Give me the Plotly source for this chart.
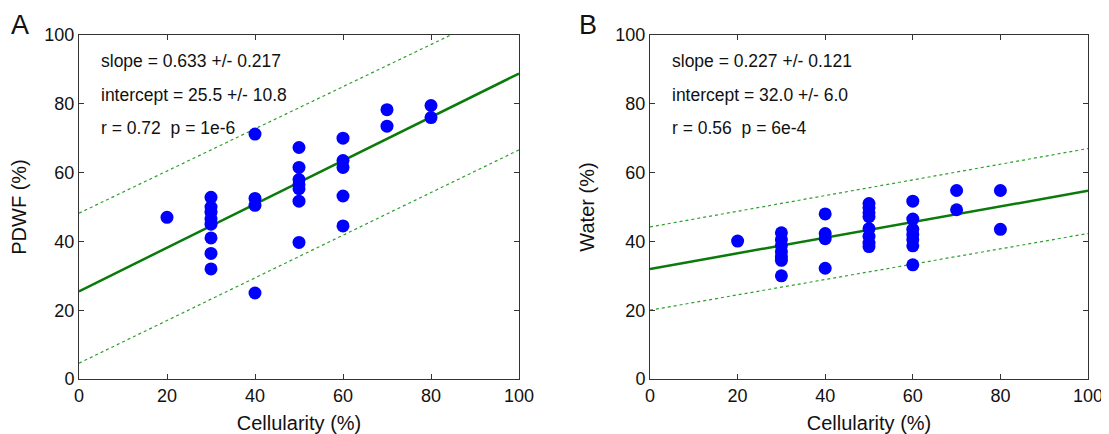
import plotly.graph_objects as go

# ---------------- data ----------------
# Panel A: PDWF vs cellularity
a_cell = [20,
          30, 30, 30, 30, 30, 30, 30, 30,
          40, 40, 40, 40,
          50, 50, 50, 50, 50, 50, 50,
          60, 60, 60, 60, 60,
          70, 70,
          80, 80]
a_pdwf = [47,
          52.8, 50, 48.5, 46.5, 45, 41, 36.5, 32,
          71.2, 52.5, 50.5, 25,
          67.3, 61.5, 58, 56.5, 55.3, 51.7, 39.7,
          70, 63.5, 61.5, 53.2, 44.5,
          78.3, 73.5,
          79.5, 76]
a_slope, a_intercept = 0.633, 25.5
a_band_x = [0, 100]
a_upper = [48.2, 109.5]
a_lower = [4.6, 66.6]
a_text = ["slope = 0.633 +/- 0.217", "intercept = 25.5 +/- 10.8", "r = 0.72  p = 1e-6"]

# Panel B: Water vs cellularity
b_cell = [20,
          30, 30, 30, 30, 30, 30, 30,
          40, 40, 40, 40,
          50, 50, 50, 50, 50, 50, 50, 50,
          60, 60, 60, 60, 60, 60, 60,
          70, 70,
          80, 80]
b_water = [40.1,
           42.5, 40.5, 38.8, 37, 35.5, 34.5, 30,
           48, 42.3, 40.8, 32.2,
           51, 49.8, 48.3, 47.2, 43.7, 41.5, 39.5, 38.5,
           51.7, 46.5, 43.5, 42, 40.5, 38.7, 33.2,
           54.8, 49.2,
           54.8, 43.5]
b_slope, b_intercept = 0.227, 32.0
b_band_x = [0, 100]
b_upper = [44.2, 67]
b_lower = [20, 42.3]
b_text = ["slope = 0.227 +/- 0.121", "intercept = 32.0 +/- 6.0", "r = 0.56  p = 6e-4"]

fit_x = [0, 100]
ticks = [0, 20, 40, 60, 80, 100]

# ---------------- figure ----------------
FONT = "Liberation Sans, Arial, Helvetica, sans-serif"
OFF = 8                      # default page margin of the html body
W, H = 1109 - OFF, 434 - OFF


def fx(px):
    return (px - OFF) / W


def fy(py):
    return (H - (py - OFF)) / H


fig = go.Figure()

panels = [
    ("x", "y", a_cell, a_pdwf, a_slope, a_intercept, a_band_x, a_upper, a_lower),
    ("x2", "y2", b_cell, b_water, b_slope, b_intercept, b_band_x, b_upper, b_lower),
]
for xa, ya, cx, cy, s, b, bx, up, lo in panels:
    fig.add_trace(go.Scatter(x=bx, y=up, xaxis=xa, yaxis=ya, mode="lines",
                             line=dict(color="#2ca02c", width=1.2, dash="dot"),
                             showlegend=False, hoverinfo="skip"))
    fig.add_trace(go.Scatter(x=bx, y=lo, xaxis=xa, yaxis=ya, mode="lines",
                             line=dict(color="#2ca02c", width=1.2, dash="dot"),
                             showlegend=False, hoverinfo="skip"))
    fig.add_trace(go.Scatter(x=fit_x, y=[b + s * v for v in fit_x], xaxis=xa, yaxis=ya,
                             mode="lines", line=dict(color="#0a7a0a", width=2.5),
                             showlegend=False))
    fig.add_trace(go.Scatter(x=cx, y=cy, xaxis=xa, yaxis=ya, mode="markers",
                             marker=dict(color="#0000ff", size=13),
                             cliponaxis=False, showlegend=False))

ydom = [fy(379), fy(35)]
axis_common = dict(range=[0, 100], tickvals=ticks, ticks="inside", ticklen=5,
                   tickcolor="#333", showline=True, linecolor="#333", linewidth=1,
                   mirror="ticks", showgrid=False, zeroline=False, automargin=False,
                   tickfont=dict(family=FONT, size=18, color="#111"))
tfont = dict(family=FONT, size=20, color="#111")

fig.update_layout(
    width=W, height=H, margin=dict(l=0, r=0, t=0, b=0),
    paper_bgcolor="white", plot_bgcolor="white",
    xaxis=dict(domain=[fx(79), fx(519)], anchor="y",
               title=dict(text="Cellularity (%)", font=tfont, standoff=12),
               **axis_common),
    yaxis=dict(domain=ydom, anchor="x",
               title=dict(text="PDWF (%)", font=tfont, standoff=15),
               **axis_common),
    xaxis2=dict(domain=[fx(650), fx(1088)], anchor="y2",
                title=dict(text="Cellularity (%)", font=tfont, standoff=12),
                **axis_common),
    yaxis2=dict(domain=ydom, anchor="x2",
                title=dict(text="Water (%)", font=tfont, standoff=15),
                **axis_common),
)

row_y = [61, 95, 128]
ann = []
for xref, yref, lines in [("x", "y", a_text), ("x2", "y2", b_text)]:
    for i, t in enumerate(lines):
        ann.append(dict(text=t, xref=xref + " domain", yref=yref + " domain",
                        x=0.045, y=(379 - row_y[i]) / 344, xanchor="left", yanchor="middle",
                        showarrow=False, font=dict(family=FONT, size=17.5, color="#111")))
ann.append(dict(text="A", xref="paper", yref="paper", x=fx(9), y=fy(25),
                xanchor="left", yanchor="middle", showarrow=False,
                font=dict(family=FONT, size=27, color="#111")))
ann.append(dict(text="B", xref="paper", yref="paper", x=fx(577), y=fy(25),
                xanchor="left", yanchor="middle", showarrow=False,
                font=dict(family=FONT, size=27, color="#111")))
fig.update_layout(annotations=ann)

fig.write_html("out.html")
